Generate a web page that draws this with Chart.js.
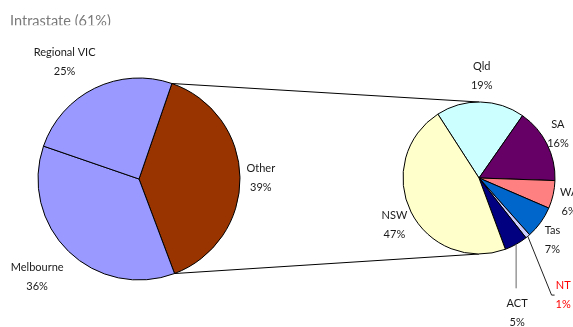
<!DOCTYPE html>
<html>
<head>
<meta charset="utf-8">
<script src="https://cdn.jsdelivr.net/npm/chart.js@4.4.1/dist/chart.umd.min.js"></script>
<style>
  html, body { margin: 0; padding: 0; background: #fff; }
  #wrap { position: relative; width: 573px; height: 327px; overflow: hidden; background: #fff; }
  canvas { position: absolute; left: 0; top: 0; }
</style>
</head>
<body>
<div id="wrap">
  <canvas id="left" width="573" height="327"></canvas>
  <canvas id="right" width="573" height="327"></canvas>
</div>
<script>
// ---- data ----
const titleText = 'Intrastate (61%)';
const leftLabels = ['Other', 'Melbourne', 'Regional VIC'];
const leftValues = [39, 36, 25];
const rightLabels = ['Qld', 'SA', 'WA', 'Tas', 'NT', 'ACT', 'NSW'];
const rightValues = [19, 16, 6, 7, 1, 5, 47];

// ---- styles ----
const leftColors = ['#993300', '#9999FF', '#9999FF'];
const rightColors = ['#CCFFFF', '#660066', '#FF8080', '#0066CC', '#CCCCFF', '#000080', '#FFFFCC'];
const labelFont = '11px Lato, sans-serif';
const labelColor = '#1a1a1a';
const labelStyle = {
  'Other':        { dx: -1.5, dy: 0.5 },
  'Melbourne':    { dx: 0.6, dy: 4.5 },
  'Regional VIC': { dx: 0.5, dy: -4 },
  'Qld':          { dx: 0.8, dy: -2.7 },
  'SA':           { dx: -7, dy: 7.4 },
  'WA':           { dx: -1, dy: -1 },
  'Tas':          { dx: -2.4, dy: -2.3 },
  'NT':           { leader: 'elbow', off: [35.4, 58.8], color: '#FF0000', line: '#222' },
  'ACT':          { leader: 'down', off: [1, 69], line: '#666' },
  'NSW':          { dx: 3.4, dy: -4.5 }
};

function clamp(v) { return Math.max(-1, Math.min(1, v)); }

// clipped title, as in the source (its lower edge is cut off)
const titlePlugin = {
  id: 'clippedTitle',
  afterDraw(chart) {
    const ctx = chart.ctx;
    ctx.save();
    ctx.beginPath();
    ctx.rect(0, 0, chart.width, 25.3);
    ctx.clip();
    ctx.font = '14.5px Lato, sans-serif';
    ctx.fillStyle = '#7a7a7a';
    ctx.textAlign = 'left';
    ctx.textBaseline = 'alphabetic';
    ctx.fillText(titleText, 10, 25.9);
    ctx.restore();
  }
};

const labelPlugin = {
  id: 'pieLabels',
  afterDatasetsDraw(chart) {
    const ctx = chart.ctx;
    const meta = chart.getDatasetMeta(0);
    const labels = chart.data.labels;
    const vals = chart.data.datasets[0].data;
    ctx.save();
    ctx.font = labelFont;
    ctx.textAlign = 'center';
    ctx.textBaseline = 'middle';
    meta.data.forEach((arc, i) => {
      const p = arc.getProps(['x', 'y', 'startAngle', 'endAngle', 'outerRadius'], true);
      const mid = (p.startAngle + p.endAngle) / 2;
      const ux = Math.cos(mid), uy = Math.sin(mid);
      const name = labels[i];
      const pct = vals[i] + '%';
      const st = labelStyle[name] || {};
      const w = Math.max(ctx.measureText(name).width, ctx.measureText(pct).width);
      const h = 30;
      const ex = p.x + p.outerRadius * ux, ey = p.y + p.outerRadius * uy;
      let cx, cy;
      if (st.leader) {
        cx = ex + st.off[0];
        cy = ey + st.off[1];
        ctx.strokeStyle = st.line || '#333';
        ctx.lineWidth = 1;
        ctx.beginPath();
        ctx.moveTo(ex, ey);
        if (st.leader === 'down') {
          ctx.lineTo(ex, cy - 25);
        } else {
          ctx.lineTo(cx - w / 2 - 4, cy);
          ctx.lineTo(cx - w / 2 - 1, cy);
        }
        ctx.stroke();
      } else {
        const gap = 8;
        const ax = p.x + (p.outerRadius + gap) * ux;
        const ay = p.y + (p.outerRadius + gap) * uy;
        cx = ax + clamp(2 * ux) * w / 2 + (st.dx || 0);
        cy = ay + clamp(2 * uy) * h / 2 + (st.dy || 0);
      }
      ctx.fillStyle = st.color || labelColor;
      ctx.fillText(name, cx, cy - 9.5);
      ctx.fillText(pct, cx, cy + 9.5);
    });
    ctx.restore();
  }
};

const leftChart = new Chart(document.getElementById('left'), {
  type: 'pie',
  data: {
    labels: leftLabels,
    datasets: [{ data: leftValues, backgroundColor: leftColors, borderColor: '#000', borderWidth: 1 }]
  },
  options: {
    responsive: false,
    animation: false,
    events: [],
    rotation: 19,
    radius: 101,
    layout: { padding: { left: 38, right: 333, top: 78, bottom: 47 } },
    plugins: { legend: { display: false }, tooltip: { enabled: false }, title: { display: false } }
  },
  plugins: [labelPlugin, titlePlugin]
});

const connectorPlugin = {
  id: 'connectors',
  beforeDatasetsDraw(chart) {
    const lm = leftChart.getDatasetMeta(0).data[0];
    const lp = lm.getProps(['x', 'y', 'startAngle', 'endAngle', 'outerRadius'], true);
    const rm = chart.getDatasetMeta(0).data[0];
    const rp = rm.getProps(['x', 'y', 'outerRadius'], true);
    const ctx = chart.ctx;
    ctx.save();
    ctx.strokeStyle = '#000';
    ctx.lineWidth = 1;
    ctx.beginPath();
    ctx.moveTo(lp.x + lp.outerRadius * Math.cos(lp.startAngle), lp.y + lp.outerRadius * Math.sin(lp.startAngle));
    ctx.lineTo(rp.x, rp.y - rp.outerRadius);
    ctx.moveTo(lp.x + lp.outerRadius * Math.cos(lp.endAngle), lp.y + lp.outerRadius * Math.sin(lp.endAngle));
    ctx.lineTo(rp.x, rp.y + rp.outerRadius);
    ctx.stroke();
    ctx.restore();
  }
};

new Chart(document.getElementById('right'), {
  type: 'pie',
  data: {
    labels: rightLabels,
    datasets: [{ data: rightValues, backgroundColor: rightColors, borderColor: '#000', borderWidth: 1 }]
  },
  options: {
    responsive: false,
    animation: false,
    events: [],
    rotation: -32.8,
    radius: 76,
    layout: { padding: { left: 403, right: 18, top: 102, bottom: 73 } },
    plugins: { legend: { display: false }, tooltip: { enabled: false }, title: { display: false } }
  },
  plugins: [connectorPlugin, labelPlugin]
});
</script>
</body>
</html>
